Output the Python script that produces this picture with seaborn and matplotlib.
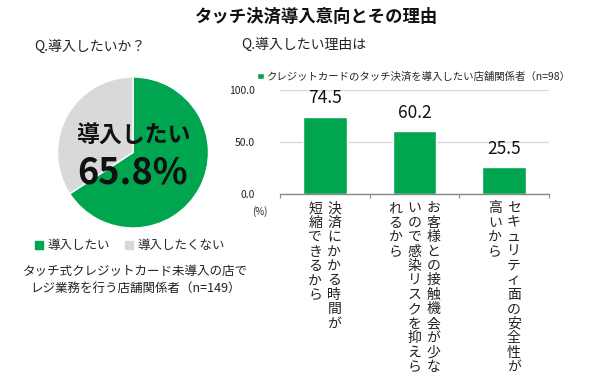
"""
Touch payment adoption intention and reasons (pie + bar chart).
"""
import numpy as np
import pandas as pd
import matplotlib.pyplot as plt
import seaborn as sns
from matplotlib.patches import Patch

# pie data
intent_labels = ['導入したい', '導入したくない']
intent_values = [65.8, 34.2]

# bar data
reason_labels = ['決済にかかる時間が短縮できるから',
                 'お客様との接触機会が少ないので感染リスクを抑えられるから',
                 'セキュリティ面の安全性が高いから']
reason_columns = [['決済にかかる時間が', '短縮できるから'],
                  ['お客様との接触機会が少な', 'いので感染リスクを抑えら', 'れるから'],
                  ['セキュリティ面の安全性が', '高いから']]
reason_values = [74.5, 60.2, 25.5]
y_ticks = [0.0, 50.0, 100.0]

GREEN = '#00A64F'
GREY = '#D9D9D9'

sns.set_theme(style='white')
plt.rcParams['font.family'] = ['Noto Sans CJK JP', 'DejaVu Sans']

fig = plt.figure(figsize=(6, 3.87), dpi=100)

fig.text(0.527, 0.957, 'タッチ決済導入意向とその理由', ha='center', va='center',
         fontsize=12.5, fontweight='bold', color='#111111')
fig.text(0.15, 0.879, 'Q.導入したいか？', ha='center', va='center',
         fontsize=10, color='#222222')
fig.text(0.402, 0.884, 'Q.導入したい理由は', ha='left', va='center',
         fontsize=10, color='#222222')

# ---- pie
ax_pie = fig.add_axes([0.0958, 0.4109, 0.2517, 0.3902])
ax_pie.pie(intent_values, colors=[GREEN, GREY], startangle=90,
           counterclock=False, radius=1.0)
ax_pie.set_xlim(-1, 1)
ax_pie.set_ylim(-1, 1)
ax_pie.text(0.0, 0.22, intent_labels[0], ha='center', va='center',
            fontsize=16.5, fontweight='bold', color='#111111')
ax_pie.text(0.0, -0.27, f'{intent_values[0]}%', ha='center', va='center',
            fontsize=26, fontweight='bold', color='#111111')

handles = [Patch(color=GREEN, label=intent_labels[0]),
           Patch(color=GREY, label=intent_labels[1])]
fig.legend(handles=handles, loc='center left', bbox_to_anchor=(0.05, 0.365),
           ncol=2, frameon=False, fontsize=9, handlelength=0.6, handleheight=0.6,
           handletextpad=0.4, columnspacing=1.2, borderaxespad=0)
fig.text(0.226, 0.277, 'タッチ式クレジットカード未導入の店で\nレジ業務を行う店舗関係者（n=149）',
         ha='center', va='center', fontsize=9, linespacing=1.35, color='#222222')

# ---- bars
ax = fig.add_axes([0.4667, 0.4987, 0.4483, 0.2687])
df = pd.DataFrame({'reason': reason_labels, 'value': reason_values})
sns.barplot(data=df, x='reason', y='value', color=GREEN, saturation=1,
            width=0.49, ax=ax, label='クレジットカードのタッチ決済を導入したい店舗関係者（n=98）')
ax.bar_label(ax.containers[0], fmt='%.1f', padding=7, fontsize=12.5, color='#111111')
ax.set_xlim(-0.5, 2.5)
ax.set_ylim(0, 100)
ax.set_yticks(y_ticks)
ax.set_yticklabels([f'{v:.1f}' for v in y_ticks], fontsize=7.5, color='#222222')
ax.set_xticks([-0.5, 0.5, 1.5, 2.5])
ax.set_xticklabels([])
ax.tick_params(axis='x', bottom=True, length=3, width=0.8, color='#888888', direction='out')
ax.tick_params(axis='y', left=False, pad=12)
ax.yaxis.grid(True, color=GREY, lw=1)
ax.set_axisbelow(True)
ax.set_xlabel('')
ax.set_ylabel('')
for side in ['left', 'right', 'top']:
    ax.spines[side].set_visible(False)
ax.spines['bottom'].set_color('#888888')
ax.spines['bottom'].set_linewidth(1)

ax.text(-0.075, -0.17, '(%)', transform=ax.transAxes, ha='center', va='center',
        fontsize=7, color='#222222')

# vertical (tategaki) category labels, columns right-to-left
col_gap = 0.212
for i, cols in enumerate(reason_columns):
    n = len(cols)
    for j, col in enumerate(cols):
        x = i + ((n - 1) / 2 - j) * col_gap
        ax.text(x, -7, '\n'.join(col), ha='center', va='top', fontsize=10,
                linespacing=1.04, color='#222222', clip_on=False)

ax.legend(loc='center left', bbox_to_anchor=(-0.1, 1.13), frameon=False,
          fontsize=7.5, handlelength=0.6, handleheight=0.6, handletextpad=0.3,
          borderaxespad=0)

fig.savefig('out.png', dpi=100)
